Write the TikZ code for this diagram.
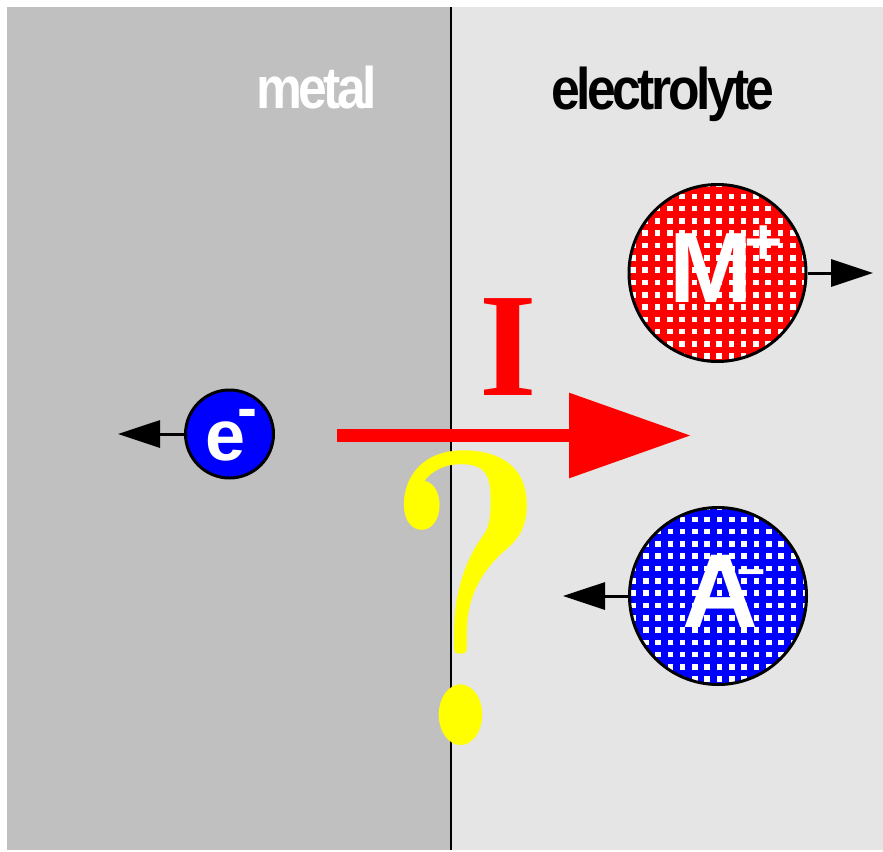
\documentclass[tikz,border=0pt]{standalone}
\usepackage{fontspec}
\setmainfont{Liberation Serif}
\setsansfont{Liberation Sans}
\newfontfamily\regionfont[FakeStretch=0.88, LetterSpace=-6]{Liberation Sans}
\newfontfamily\querfont{Latin Modern Roman}
\usetikzlibrary{arrows.meta, positioning}

\definecolor{metalgray}{HTML}{C0C0C0}
\definecolor{solutiongray}{HTML}{E5E5E5}
\definecolor{qyellow}{HTML}{FFFF00}

\begin{document}
\begin{tikzpicture}[
    x=1pt, y=-1pt,
    ion/.style={
        circle,
        draw=black,
        line width=3pt,
        inner sep=0pt,
        minimum size=#1
    },
    square grid/.style={
        path picture={
            \begin{scope}[shift={(path picture bounding box.center)}]
                \foreach \i in {-8,...,8}
                    \foreach \j in {-8,...,8}
                        \fill[white] (\i*12.3-1.25, \j*12.3-5.65) rectangle +(5.6,5.6);
            \end{scope}
        }
    },
    region label/.style={
        font=\regionfont\bfseries\fontsize{58.7}{60}\selectfont,
        anchor=base,
        inner sep=0pt
    },
    ion text/.style={
        font=\sffamily\bfseries,
        text=white,
        anchor=base west,
        inner sep=0pt
    },
    motion arrow/.style={
        -{Triangle[length=42pt, width=27pt]},
        line width=3pt,
        draw=black
    },
    current arrow/.style={
        -{Triangle[length=122pt, width=82pt]},
        line width=13pt,
        draw=red
    }
]
    \useasboundingbox (0,0) rectangle (883,851);

    % --- REGIONS ---
    \fill[metalgray] (7,7) rectangle (451,850);
    \fill[solutiongray] (451,7) rectangle (883,850);
    \draw[line width=2pt] (451,7) -- (451,850);

    \node[region label, text=white] (metal) at (316.5,108) {metal};
    \node[region label, text=black] (electrolyte) at (663,109) {electrolyte};

    % --- CURRENT ---
    \coordinate (current start) at (337,435.5);
    \coordinate (current end) at (691,435.5);
    \draw[current arrow] (current start) -- (current end);
    \node[text=red, font=\bfseries\fontsize{148}{148}\selectfont, inner sep=0pt] (current) at (508.5,347) {I};

    % Question mark
    \node[text=qyellow, font=\querfont\bfseries\fontsize{421}{421}\selectfont, inner sep=0pt] (question) at (466,598)
        {\scalebox{0.72}[1]{?}};

    % --- ELECTRON (metal side) ---
    \node[ion=88pt, fill=blue] (electron) at (229.5,434) {};
    \coordinate (electron tip) at (118,434);
    \draw[motion arrow] (electron.west) -- (electron tip);
    \node[ion text] (electron label) at (204.8,460)
        {\fontsize{72}{72}\selectfont e\kern-7.2pt\raisebox{31.3pt}{\fontsize{60}{60}\selectfont -}};

    % --- CATION (electrolyte side) ---
    \node[ion=177pt, fill=red, square grid] (cation) at (717.5,273) {};
    \coordinate (cation tip) at (873,273);
    \draw[motion arrow] (cation.east) -- (cation tip);
    \node[ion text] (cation label) at (669.7,302)
        {\fontsize{100}{100}\selectfont M\kern-8.5pt\raisebox{38pt}{\fontsize{66}{66}\selectfont +}};

    % --- ANION (electrolyte side) ---
    \node[ion=177pt, fill=blue, square grid] (anion) at (718,596) {};
    \coordinate (anion tip) at (563,596);
    \draw[motion arrow] (anion.west) -- (anion tip);
    \node[ion text] (anion label) at (682,627)
        {\fontsize{105}{105}\selectfont A\kern-20.8pt\raisebox{41.5pt}{\fontsize{50}{50}\selectfont –}};

\end{tikzpicture}
\end{document}
